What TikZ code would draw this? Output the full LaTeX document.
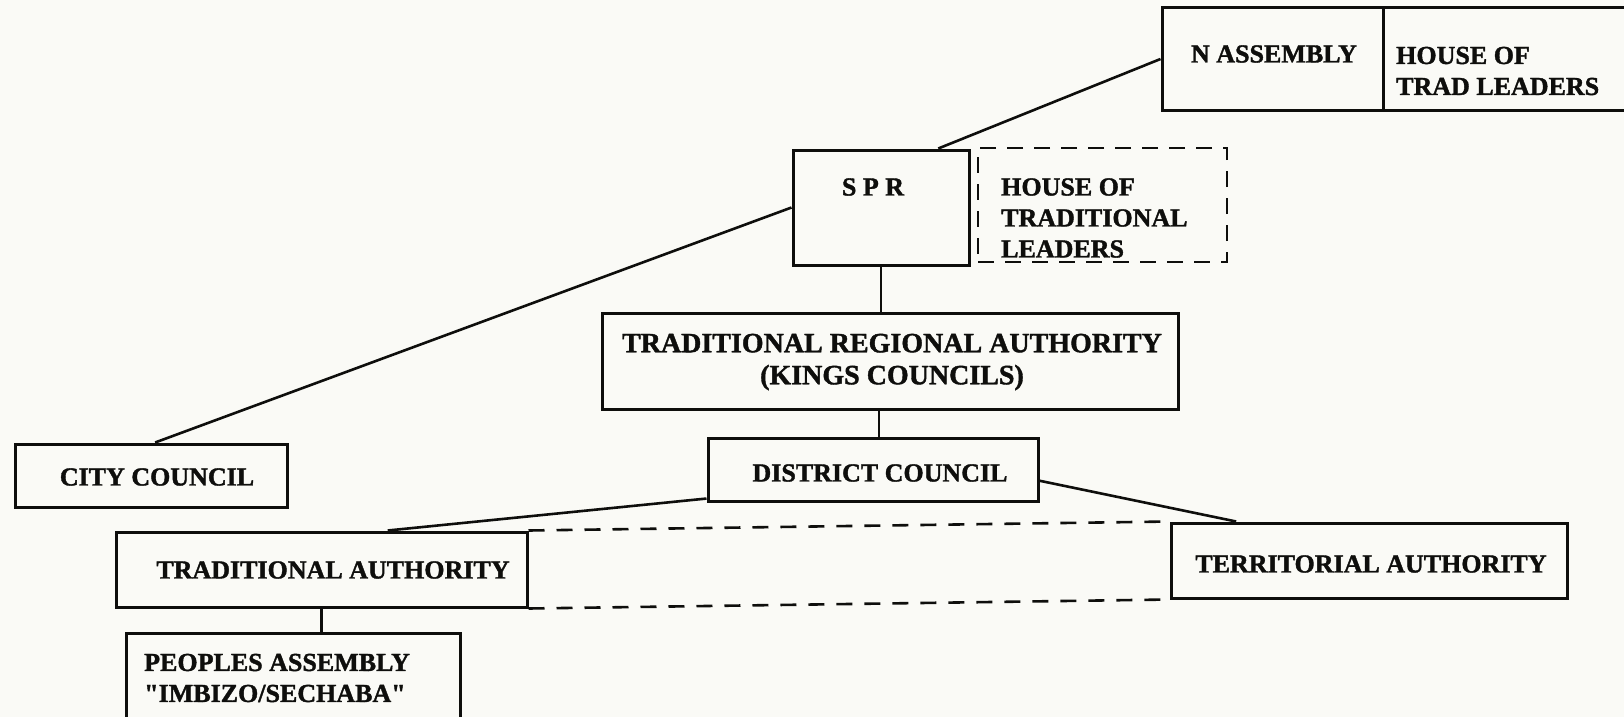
\documentclass[tikz,border=0pt]{standalone}
\usepackage{fontspec}
\setmainfont{Liberation Serif}[BoldFeatures={FakeBold=1.4}]
\usetikzlibrary{calc}
\definecolor{paper}{RGB}{250,250,246}
\definecolor{ink}{RGB}{14,14,12}
% straight double quote, set as a glyph so that the TeX mapping leaves it alone
\newcommand{\sq}{\XeTeXglyph\XeTeXcharglyph"22\relax}
\begin{document}
\begin{tikzpicture}[x=1pt,y=-1pt,
  box/.style={draw=ink,line width=3pt,rectangle,inner sep=0pt},
  dbox/.style={box,line width=2.6pt,dash pattern=on 16pt off 11pt},
  lbl/.style={inner sep=0pt,text=ink,font=\fontsize{26}{31}\selectfont\bfseries},
  link/.style={draw=ink,line width=2.6pt},
  dlink/.style={link,dash pattern=on 16pt off 12pt}]
  % page and clipping frame
  \useasboundingbox (0,0) rectangle (1624,717);
  \fill[paper] (0,0) rectangle (1624,717);
  \clip (0,0) rectangle (1624,717);

  % boxes
  \node[box,minimum width=221pt,minimum height=102pt] (nasm) at (1272.5,59) {};
  \node[box,minimum width=317pt,minimum height=102pt] (htl) at (1541.5,59) {};
  \node[box,minimum width=176pt,minimum height=115pt] (spr) at (881,207.5) {};
  \node[dbox,minimum width=249pt,minimum height=114pt] (hotl) at (1102.5,205) {};
  \node[box,minimum width=576pt,minimum height=96pt] (tra) at (890,361) {};
  \node[box,minimum width=330pt,minimum height=63pt] (dc) at (873,469.5) {};
  \node[box,minimum width=272pt,minimum height=63pt] (cc) at (151,475.5) {};
  \node[box,minimum width=411pt,minimum height=75pt] (ta) at (321.5,569.5) {};
  \node[box,minimum width=396pt,minimum height=75pt] (terr) at (1369,560.5) {};
  \node[box,minimum width=334pt,minimum height=90pt] (pa) at (293,678) {};

  % texts
  \node[lbl] (tnasm) at (1274,54) {N ASSEMBLY};
  \node[lbl,anchor=west,align=left] (thtl) at (1396,71) {HOUSE OF\\TRAD LEADERS};
  \node[lbl] (tspr) at (873,187) {S P R};
  \node[lbl,anchor=west,align=left] (thotl) at (1001,218) {HOUSE OF\\TRADITIONAL\\LEADERS};
  \node[lbl,align=center,font=\fontsize{28}{32}\selectfont\bfseries] (ttra) at (892,362) {TRADITIONAL REGIONAL AUTHORITY\\(KINGS COUNCILS)};
  \node[lbl] (tdc) at (880,473) {DISTRICT COUNCIL};
  \node[lbl] (tcc) at (157,477) {CITY COUNCIL};
  \node[lbl] (tta) at (333,570) {TRADITIONAL AUTHORITY};
  \node[lbl] (tterr) at (1371,564) {TERRITORIAL AUTHORITY};
  \node[lbl,anchor=west,align=left] (tpa) at (144,678) {PEOPLES ASSEMBLY\\\sq IMBIZO/SECHABA\sq};

  % connectors
  \draw[link] (nasm.west) -- ($(spr.north west)!0.82!(spr.north east)$);
  \draw[link] (spr.west) -- ($(cc.north west)!0.515!(cc.north east)$);
  \draw[link] (spr.south) -- (spr.south |- tra.north);
  \coordinate (trab) at ($(tra.south west)!0.481!(tra.south east)$);
  \draw[link] (trab) -- (trab |- dc.north);
  \draw[link] ($(dc.south west)!0.06!(dc.north west)$) -- ($(ta.north west)!0.66!(ta.north east)$);
  \draw[link] ($(dc.south east)!0.33!(dc.north east)$) -- ($(terr.north west)!0.167!(terr.north east)$);
  \draw[link] (ta.south) -- (ta.south |- pa.north);
  \draw[dlink] (ta.north east) -- (terr.north west);
  \draw[dlink] (ta.south east) -- (terr.south west);
\end{tikzpicture}
\end{document}
